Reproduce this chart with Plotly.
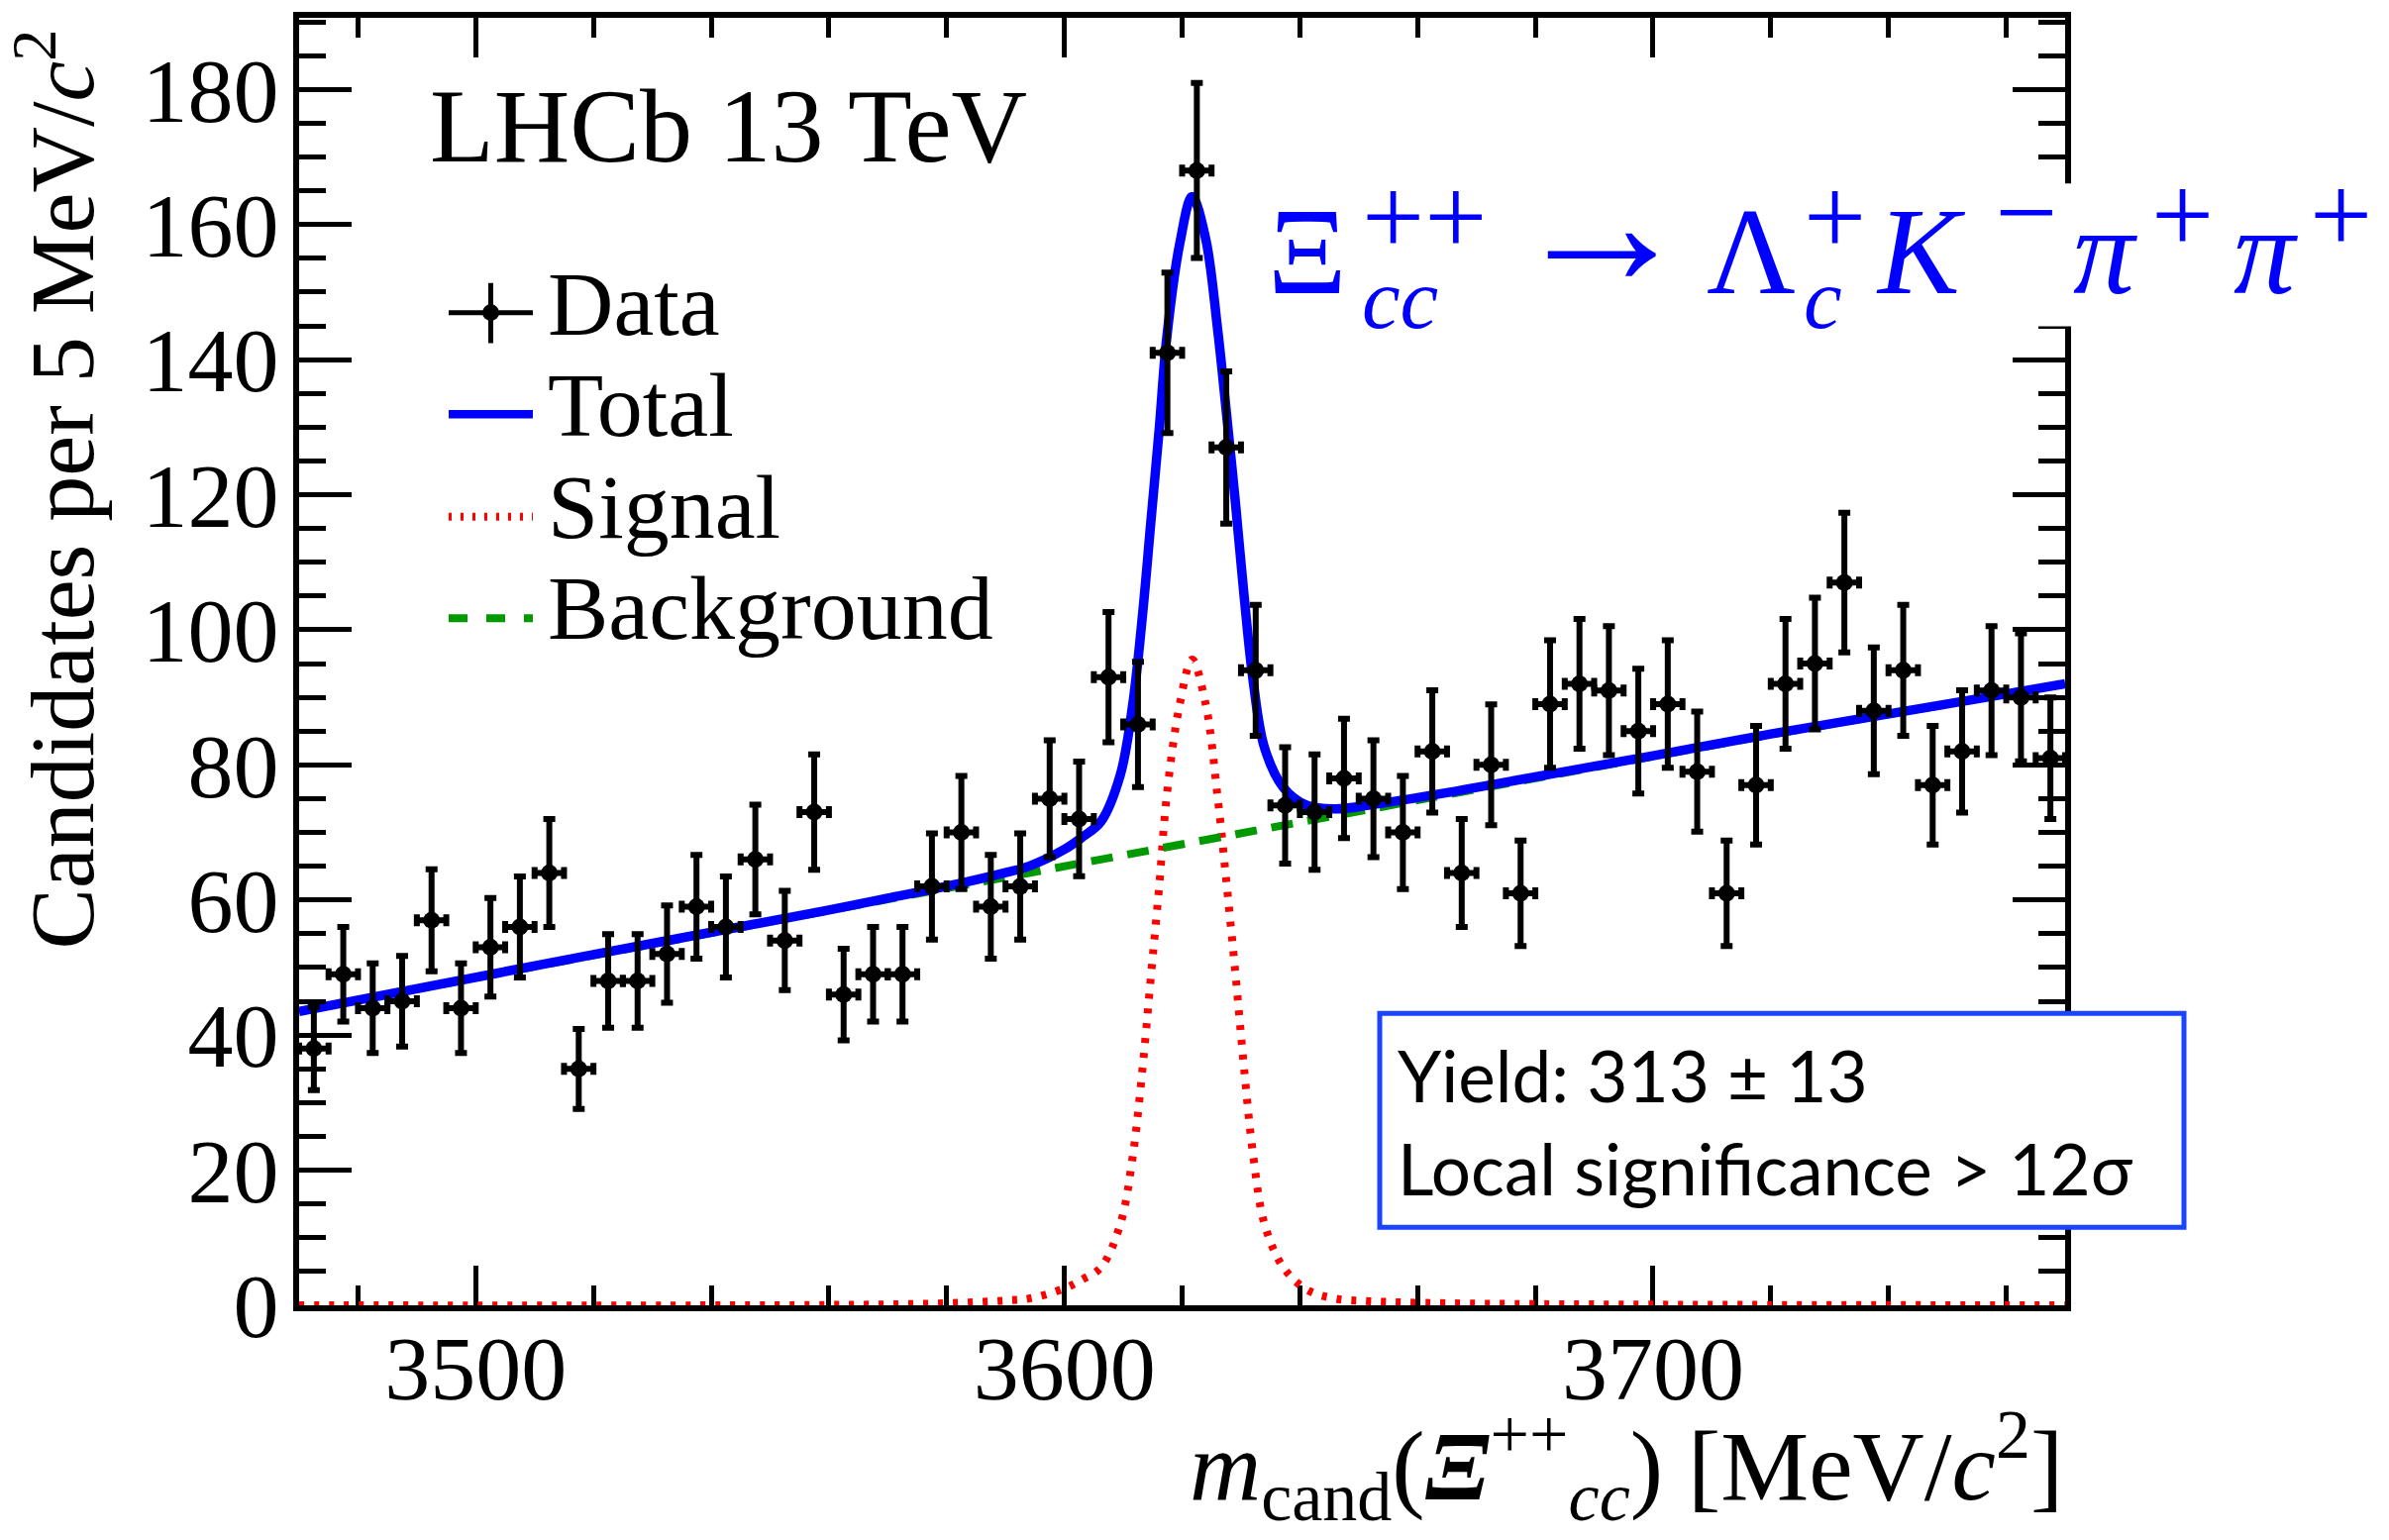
import numpy as np
import plotly.graph_objects as go

# ---------------- data ----------------
bin_centers = [3472.5, 3477.5, 3482.5, 3487.5, 3492.5, 3497.5, 3502.5, 3507.5, 3512.5, 3517.5,
               3522.5, 3527.5, 3532.5, 3537.5, 3542.5, 3547.5, 3552.5, 3557.5, 3562.5, 3567.5,
               3572.5, 3577.5, 3582.5, 3587.5, 3592.5, 3597.5, 3602.5, 3607.5, 3612.5, 3617.5,
               3622.5, 3627.5, 3632.5, 3637.5, 3642.5, 3647.5, 3652.5, 3657.5, 3662.5, 3667.5,
               3672.5, 3677.5, 3682.5, 3687.5, 3692.5, 3697.5, 3702.5, 3707.5, 3712.5, 3717.5,
               3722.5, 3727.5, 3732.5, 3737.5, 3742.5, 3747.5, 3752.5, 3757.5, 3762.5, 3767.5]
counts = [38, 49, 44, 45, 57, 44, 53, 56, 64, 35,
          48, 48, 52, 59, 56, 66, 54, 73, 46, 49,
          49, 62, 70, 59, 62, 75, 72, 93, 86, 141,
          168, 127, 94, 74, 73, 78, 75, 70, 82, 64,
          80, 61, 89, 92, 91, 85, 89, 79, 61, 77,
          92, 95, 107, 88, 94, 77, 82, 91, 90, 81]
bin_half_width = 2.5

# fitted signal component
signal_x = [3470, 3560, 3580, 3590, 3594, 3600, 3603, 3606.2, 3609.5, 3611.6, 3613.3, 3614.7,
            3616.1, 3617.4, 3619.6, 3621.7, 3624.0, 3626.0, 3627.6, 3629.1, 3630.5, 3632.1,
            3634.0, 3637.2, 3641.2, 3646, 3652, 3665, 3700, 3770]
signal_y = [0.0, 0.05, 0.3, 0.7, 1.0, 2.5, 3.8, 5.6, 12.0, 22.0, 35.3, 48.7,
            62.0, 75.5, 89.0, 95.6, 89.0, 75.5, 62.0, 48.7, 35.3, 22.0,
            12.0, 5.6, 2.3, 1.0, 0.6, 0.3, 0.1, 0.0]

# fitted background component
bkg_x = [3470, 3520, 3570, 3670, 3720, 3770]
bkg_y = [43.5, 51.9, 60.1, 76.4, 84.5, 92.0]

x_range = [3470, 3770]
y_range = [0, 190.6]

legend_labels = ["Data", "Total", "Signal", "Background"]
yield_text = "Yield: 313 ± 13"
signif_text = "Local significance > 12σ"

# ---------------- derived ----------------
errors = np.sqrt(np.array(counts, dtype=float))
total_x = sorted(set(signal_x) | set(bkg_x))
total_y = np.interp(total_x, signal_x, signal_y) + np.interp(total_x, bkg_x, bkg_y)

# ---------------- geometry helpers (pixels of the page) ----------------
FIG_W, FIG_H = 2412, 1555
L, R, T, B = 302, 2085, 12, 1318
W, H = R - L, B - T
SERIF = "Liberation Serif, Times New Roman, serif"
SANS = "Lato, sans-serif"


def px(xp):
    return (xp - L) / W


def py(yp):
    return (B - yp) / H


def ann(text, xp, center, size, family=SERIF, color="black", xanchor="left"):
    return dict(text=text, x=px(xp), y=py(center), xref="paper", yref="paper",
                showarrow=False, xanchor=xanchor, yanchor="middle", borderpad=0,
                font=dict(family=family, size=size, color=color))


def ann_base(text, xp, baseline, size, k=0.3375, **kw):
    return ann(text, xp, baseline - k * size, size, **kw)


def stack(sup, sub, xp, top, base_size, sup_size, sub_size, color, family=SERIF):
    text = (f"<span style='font-size:{sup_size}px'>{sup}</span><br>"
            f"<span style='font-size:{sub_size}px'>{sub}</span>")
    return dict(text=text, x=px(xp), y=py(top), xref="paper", yref="paper", showarrow=False,
                xanchor="left", yanchor="top", align="left", borderpad=0,
                font=dict(family=family, size=base_size, color=color))


BLUE = "#0000ff"
RED = "#ff0000"
GREEN = "#009900"
BOXBLUE = "#1a44ff"

fig = go.Figure()

fig.add_trace(go.Scatter(x=signal_x, y=signal_y, mode="lines", line_shape="spline",
                         line=dict(color=RED, width=8, dash="5px,10px"), name="Signal",
                         hoverinfo="skip"))
fig.add_trace(go.Scatter(x=bkg_x, y=bkg_y, mode="lines",
                         line=dict(color=GREEN, width=8, dash="22px,15px"), name="Background",
                         hoverinfo="skip"))
fig.add_trace(go.Scatter(x=total_x, y=total_y, mode="lines", line_shape="spline",
                         line=dict(color=BLUE, width=9.5), name="Total", hoverinfo="skip"))
fig.add_trace(go.Scatter(x=bin_centers, y=counts, mode="markers", name="Data",
                         marker=dict(color="black", size=17),
                         error_y=dict(type="data", array=errors, visible=True, color="black",
                                      thickness=6, width=6),
                         error_x=dict(type="constant", value=bin_half_width, visible=True,
                                      color="black", thickness=6, width=6)))

axis_common = dict(showgrid=False, zeroline=False, showline=True, linecolor="black",
                   linewidth=6, ticks="inside", tickcolor="black", tickwidth=5,
                   mirror="ticks", tickfont=dict(family=SERIF, size=92, color="black"))

fig.update_xaxes(range=x_range, tick0=3500, dtick=100, ticklen=40, ticklabelstandoff=-21,
                 minor=dict(tick0=3500, dtick=20, ticklen=20, tickwidth=5, tickcolor="black",
                            ticks="inside", showgrid=False),
                 layer="below traces", **axis_common)
fig.update_yaxes(range=y_range, tick0=0, dtick=20, ticklen=53, ticklabelstandoff=-4,
                 minor=dict(tick0=0, dtick=5, ticklen=27, tickwidth=5, tickcolor="black",
                            ticks="inside", showgrid=False),
                 **axis_common)

shapes = []
# white box behind decay label (covers frame)
shapes.append(dict(type="rect", xref="paper", yref="paper", x0=px(1262), x1=px(2412),
                   y0=py(325), y1=py(180), fillcolor="white", line=dict(width=0), layer="above"))
# yield box
shapes.append(dict(type="rect", xref="paper", yref="paper", x0=px(1393), x1=px(2205),
                   y0=py(1239), y1=py(1022), fillcolor="white",
                   line=dict(color=BOXBLUE, width=5), layer="above"))
# legend symbols
lx0, lx1 = 453, 538
lxc = (lx0 + lx1) / 2
shapes.append(dict(type="line", xref="paper", yref="paper", x0=px(lx0), x1=px(lx1),
                   y0=py(311), y1=py(311), line=dict(color="black", width=5), layer="above"))
shapes.append(dict(type="line", xref="paper", yref="paper", x0=px(lxc), x1=px(lxc),
                   y0=py(281), y1=py(342), line=dict(color="black", width=5), layer="above"))
shapes.append(dict(type="circle", xref="paper", yref="paper", x0=px(lxc - 8.5), x1=px(lxc + 8.5),
                   y0=py(311 + 8.5), y1=py(311 - 8.5), fillcolor="black",
                   line=dict(color="black", width=0), layer="above"))
shapes.append(dict(type="line", xref="paper", yref="paper", x0=px(lx0), x1=px(lx1),
                   y0=py(414), y1=py(414), line=dict(color=BLUE, width=8.5), layer="above"))
shapes.append(dict(type="line", xref="paper", yref="paper", x0=px(lx0), x1=px(lx1),
                   y0=py(518), y1=py(518), line=dict(color=RED, width=8, dash="3px,9px"),
                   layer="above"))
shapes.append(dict(type="line", xref="paper", yref="paper", x0=px(lx0), x1=px(lx1),
                   y0=py(621), y1=py(621), line=dict(color=GREEN, width=8, dash="19px,19px"),
                   layer="above"))

annotations = []
annotations.append(ann_base("LHCb 13 TeV", 433, 158, 106))
for lab, base in zip(legend_labels, [333, 436, 539, 642]):
    annotations.append(ann_base(lab, 552, base, 92))

# decay label:  Xi_cc^{++} -> Lambda_c^+ K^- pi^+ pi^+
MAIN, SUPS, SUBS, BASE = 124, 112, 87, 57
mb = 291                          # main baseline
sup_c = 222 - 0.0875 * SUPS       # box centre of single superscripts
stack_top = 250.3 - 0.891 * SUPS  # top of stacked sup/sub blocks
annotations += [
    ann_base("Ξ", 1279, mb, MAIN, color=BLUE),
    stack("++", "<i>cc</i>", 1374, stack_top, BASE, SUPS, SUBS, BLUE),
    ann("→", 1524, 221, 184, color=BLUE),
    ann_base("Λ", 1722, mb, MAIN, color=BLUE),
    stack("+", "<i>c</i>", 1820, stack_top, BASE, SUPS, SUBS, BLUE),
    ann_base("<i>K</i>", 1893, mb, MAIN, color=BLUE),
    ann("−", 2013, 219 - 0.0875 * SUPS, SUPS, color=BLUE),
    ann_base("<i>π</i>", 2092, mb, MAIN, color=BLUE),
    ann("+", 2171, sup_c, SUPS, color=BLUE),
    ann_base("<i>π</i>", 2254, mb, MAIN, color=BLUE),
    ann("+", 2331, sup_c, SUPS, color=BLUE),
]

# yield box text
annotations.append(ann_base(yield_text, 1410, 1112, 71, k=0.387, family=SANS))
annotations.append(ann_base(signif_text, 1410, 1206, 71, k=0.387, family=SANS))

# axis titles
annotations.append(ann_base("<i>m</i><sub>cand</sub>(<i><b>Ξ</b></i><sup>++</sup><sub><i>cc</i></sub>) [MeV/<i>c</i><sup>2</sup>]",
                            2084, 1515, 100, k=0.34, xanchor="right"))
annotations.append(dict(text="Candidates per 5 MeV/<i>c</i><sup>2</sup>", x=px(57), y=py(23),
                        xref="paper", yref="paper", showarrow=False, textangle=-90,
                        xanchor="center", yanchor="top", borderpad=0,
                        font=dict(family=SERIF, size=92, color="black")))

fig.update_layout(width=FIG_W, height=FIG_H, margin=dict(l=L, r=FIG_W - R, t=T, b=FIG_H - B),
                  paper_bgcolor="white", plot_bgcolor="white", showlegend=False,
                  shapes=shapes, annotations=annotations)

fig.write_html("out.html")
